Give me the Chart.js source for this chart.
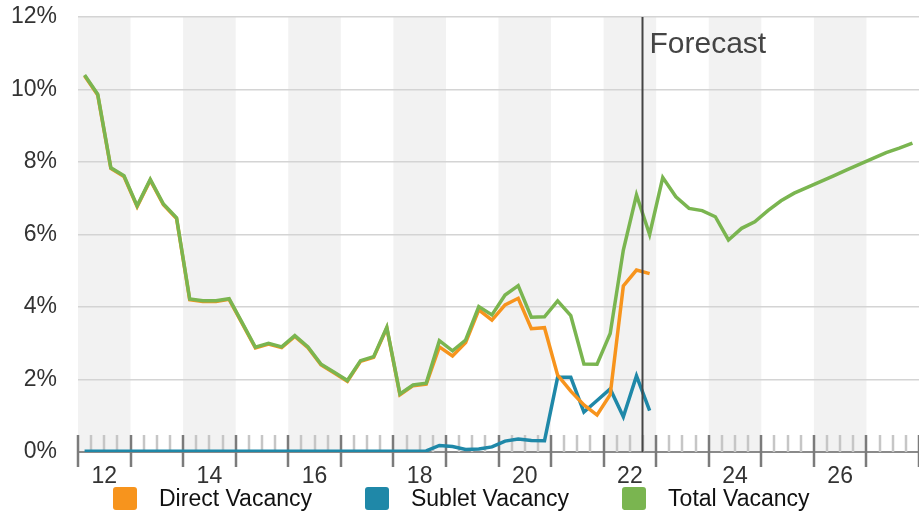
<!DOCTYPE html>
<html>
<head>
<meta charset="utf-8">
<title>Vacancy</title>
<script src="https://cdn.jsdelivr.net/npm/chart.js@4.4.0/dist/chart.umd.min.js"></script>
<style>
  html, body { margin: 0; padding: 0; background: #fff; }
  #wrap { position: relative; width: 919px; height: 514px; }
  #legend {
    position: absolute; left: 113px; top: 487px; height: 23px;
    display: flex; align-items: center;
    font: 23px "Liberation Sans", Arial, sans-serif; color: #111;
  }
  .item { display: flex; align-items: center; margin-right: 53px; line-height: 23px; }
  .box { width: 24px; height: 23px; border-radius: 3px; margin-right: 22px; }
</style>
</head>
<body>
<div id="wrap">
  <canvas id="vacancyChart"></canvas>
  <div id="legend"></div>
</div>
<script>
// quarters 2012 Q1 .. 2027 Q4
const years = [2012, 2013, 2014, 2015, 2016, 2017, 2018, 2019, 2020, 2021, 2022, 2023, 2024, 2025, 2026, 2027];
const quarters = years.flatMap(y => ['Q1', 'Q2', 'Q3', 'Q4'].map(q => y + ' ' + q));

const tickYears = ['12', '14', '16', '18', '20', '22', '24', '26'];
const yTicks = [0, 2, 4, 6, 8, 10, 12];

// forecast starts after 2022 Q3
const forecastAt = 43;

const directVacancy = [
  10.38, 9.85, 7.82, 7.60, 6.77, 7.50, 6.82, 6.44, 4.20, 4.15, 4.15, 4.21,
  3.54, 2.87, 2.98, 2.88, 3.19, 2.88, 2.40, 2.18, 1.95, 2.50, 2.61, 3.42,
  1.58, 1.83, 1.87, 2.90, 2.65, 3.02, 3.92, 3.64, 4.06, 4.24, 3.40, 3.43,
  2.12, 1.68, 1.30, 1.02, 1.58, 4.58, 5.02, 4.92
];

const subletVacancy = [
  0.02, 0.02, 0.02, 0.02, 0.02, 0.02, 0.02, 0.02, 0.02, 0.02, 0.02, 0.02,
  0.02, 0.02, 0.02, 0.02, 0.02, 0.02, 0.02, 0.02, 0.02, 0.02, 0.02, 0.02,
  0.02, 0.02, 0.03, 0.18, 0.15, 0.07, 0.08, 0.14, 0.30, 0.36, 0.32, 0.31,
  2.06, 2.06, 1.10, 1.42, 1.74, 0.97, 2.10, 1.14
];

const totalVacancy = [
  10.40, 9.87, 7.84, 7.62, 6.79, 7.52, 6.84, 6.46, 4.22, 4.17, 4.17, 4.23,
  3.56, 2.89, 3.00, 2.90, 3.21, 2.90, 2.42, 2.20, 1.97, 2.52, 2.63, 3.44,
  1.60, 1.85, 1.90, 3.07, 2.79, 3.09, 4.01, 3.78, 4.33, 4.59, 3.72, 3.73,
  4.17, 3.76, 2.43, 2.42, 3.27, 5.57, 7.09, 6.00, 7.57, 7.04, 6.72, 6.66,
  6.49, 5.85, 6.17, 6.35, 6.66, 6.93, 7.14, 7.30, 7.46, 7.62, 7.78, 7.94,
  8.10, 8.26, 8.38, 8.52
];

const seriesNames = ['Direct Vacancy', 'Sublet Vacancy', 'Total Vacancy'];
const seriesColors = ['#F7941D', '#1F88A8', '#7AB550'];

// each quarter sits in the middle of its slot on the axis
function toPoints(values) {
  return values.map((v, i) => ({ x: i + 0.5, y: v }));
}

const backdrop = {
  id: 'backdrop',
  beforeDraw(chart) {
    const { ctx, chartArea: a, scales: { x } } = chart;
    ctx.save();
    ctx.fillStyle = '#f2f2f2';
    for (let k = 0; k < years.length; k += 2) {
      const x0 = x.getPixelForValue(k * 4);
      const x1 = x.getPixelForValue(k * 4 + 4);
      ctx.fillRect(x0, a.top, x1 - x0, a.bottom - a.top + 1);
    }
    ctx.restore();
  },
  beforeDatasetsDraw(chart) {
    const { ctx, chartArea: a, scales: { x } } = chart;
    ctx.save();
    ctx.lineWidth = 2.5;
    for (let q = 0; q <= quarters.length; q++) {
      const px = Math.round(x.getPixelForValue(q));
      const major = q % 4 === 0;
      ctx.strokeStyle = major ? '#7b7b7b' : '#c6c6c6';
      ctx.beginPath();
      ctx.moveTo(px, a.bottom - 17);
      ctx.lineTo(px, major ? a.bottom + 15 : a.bottom);
      ctx.stroke();
    }
    ctx.restore();
  },
  afterDatasetsDraw(chart) {
    const { ctx, chartArea: a, scales: { x } } = chart;
    const px = Math.round(x.getPixelForValue(forecastAt)) - 0.5;
    ctx.save();
    ctx.strokeStyle = '#444';
    ctx.lineWidth = 2;
    ctx.beginPath();
    ctx.moveTo(px, a.top);
    ctx.lineTo(px, a.bottom);
    ctx.stroke();
    ctx.fillStyle = '#444';
    ctx.font = '30px "Liberation Sans", Arial, sans-serif';
    ctx.textBaseline = 'alphabetic';
    ctx.fillText('Forecast', px + 7, a.top + 36);
    ctx.restore();
  }
};

const ctx = document.getElementById('vacancyChart').getContext('2d');
const chart = new Chart(ctx, {
  type: 'line',
  data: {
    datasets: [
      { label: seriesNames[2], data: toPoints(totalVacancy), borderColor: seriesColors[2], order: 0 },
      { label: seriesNames[0], data: toPoints(directVacancy), borderColor: seriesColors[0], order: 1 },
      { label: seriesNames[1], data: toPoints(subletVacancy), borderColor: seriesColors[1], order: 2 }
    ]
  },
  options: {
    responsive: true,
    maintainAspectRatio: false,
    animation: false,
    layout: { padding: { top: 17, right: 0, bottom: 0, left: 0 } },
    elements: {
      line: { borderWidth: 3.5, tension: 0, fill: false },
      point: { radius: 0, hoverRadius: 0 }
    },
    plugins: {
      legend: { display: false },
      tooltip: { enabled: false }
    },
    scales: {
      x: {
        type: 'linear',
        min: 0,
        max: quarters.length,
        grid: { display: false, drawTicks: false },
        border: { display: false },
        ticks: {
          stepSize: 1,
          autoSkip: false,
          maxRotation: 0,
          padding: 11,
          color: '#333',
          font: { family: '"Liberation Sans", Arial, sans-serif', size: 23 },
          callback: v => (v - 2) % 8 === 0 ? tickYears[(v - 2) / 8] : ''
        },
        afterFit(scale) {
          scale.height = 62;
          scale.paddingLeft = 0;
          scale.paddingRight = 0;
        }
      },
      y: {
        min: yTicks[0],
        max: yTicks[yTicks.length - 1],
        grid: {
          drawTicks: false,
          color: c => c.tick.value === 0 ? '#8a8a8a' : '#d4d4d4',
          lineWidth: c => c.tick.value === 0 ? 2 : 1.5
        },
        border: { display: false },
        ticks: {
          stepSize: 2,
          padding: 21,
          color: '#333',
          font: { family: '"Liberation Sans", Arial, sans-serif', size: 23 },
          callback: v => v + '%'
        },
        afterFit(scale) {
          scale.width = 78;
          scale.paddingTop = 0;
          scale.paddingBottom = 0;
        }
      }
    }
  },
  plugins: [backdrop]
});

// legend in the original series order
const legend = document.getElementById('legend');
seriesNames.forEach((name, i) => {
  const item = document.createElement('div');
  item.className = 'item';
  const box = document.createElement('span');
  box.className = 'box';
  box.style.background = seriesColors[i];
  item.appendChild(box);
  item.appendChild(document.createTextNode(name));
  legend.appendChild(item);
});
</script>
</body>
</html>
